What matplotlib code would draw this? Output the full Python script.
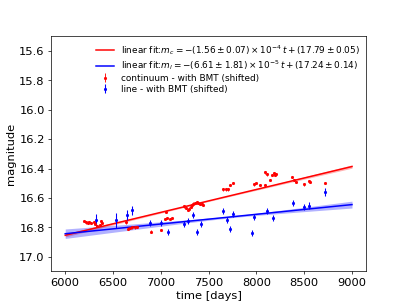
import matplotlib
matplotlib.use("Agg")
import matplotlib.pyplot as plt
import numpy as np

# continuum light curve (shifted)
cont_t = [6199, 6217, 6234, 6253, 6269, 6297, 6311, 6332, 6371, 6381, 6363,
          6636, 6654, 6678, 6699, 6727, 6751, 6895, 7002,
          7055, 7044, 7065, 7092, 7118,
          7247, 7264, 7282, 7299, 7317, 7327, 7341, 7359, 7376, 7393, 7411, 7429, 7446,
          7655, 7680, 7708, 7725, 7754,
          7977, 7998, 8040, 8085, 8116, 8144, 8162, 8179, 8197, 8207, 8092,
          8372, 8389, 8417, 8501, 8546, 8564, 8721]
cont_m = [16.759, 16.766, 16.768, 16.762, 16.771, 16.766, 16.779, 16.793, 16.757, 16.771, 16.786,
          16.767, 16.809, 16.805, 16.800, 16.800, 16.797, 16.829, 16.820,
          16.695, 16.742, 16.738, 16.742, 16.738,
          16.657, 16.668, 16.684, 16.672, 16.661, 16.650, 16.638, 16.634, 16.627, 16.634, 16.643, 16.638, 16.650,
          16.542, 16.542, 16.542, 16.513, 16.497,
          16.508, 16.497, 16.513, 16.426, 16.440, 16.479, 16.445, 16.431, 16.445, 16.438, 16.513,
          16.456, 16.479, 16.490, 16.508, 16.486, 16.493, 16.497]
cont_err = [0.008] * len(cont_t)

# line light curve (shifted)
line_t = [6318, 6528, 6649, 6695, 6887, 7002, 7079, 7247, 7288, 7341, 7376, 7421,
          7655, 7691, 7725, 7754, 7953, 7980, 8116, 8169, 8378, 8501, 8546, 8721]
line_m = [16.752, 16.752, 16.718, 16.684, 16.771, 16.771, 16.832, 16.779, 16.759, 16.713, 16.832, 16.779,
          16.691, 16.752, 16.809, 16.711, 16.836, 16.730, 16.689, 16.734, 16.634, 16.661, 16.652, 16.559]
line_err = [0.04, 0.05, 0.035, 0.03, 0.02, 0.02, 0.02, 0.02, 0.02, 0.02, 0.02, 0.02,
            0.02, 0.02, 0.02, 0.02, 0.02, 0.02, 0.02, 0.02, 0.02, 0.02, 0.025, 0.025]

# fit results
cont_slope, cont_slope_err, cont_icpt = -1.56e-4, 0.07e-4, 17.79
line_slope, line_slope_err, line_icpt = -6.61e-5, 1.81e-5, 17.24
cont_pivot, cont_pivot_err = 7500, 0.004
line_pivot, line_pivot_err = 7750, 0.006

t_fit = np.linspace(6000, 9000, 200)
cont_fit = cont_slope * t_fit + cont_icpt
line_fit = line_slope * t_fit + line_icpt
cont_band = np.sqrt(cont_pivot_err**2 + (cont_slope_err * (t_fit - cont_pivot))**2)
line_band = np.sqrt(line_pivot_err**2 + (line_slope_err * (t_fit - line_pivot))**2)

fig, ax = plt.subplots(figsize=(6.4, 4.8), dpi=63.6)

ax.plot(t_fit, cont_fit, color='red', lw=1.7,
        label=r'linear fit:$m_c = -(1.56 \pm 0.07) \times 10^{-4}\,t + (17.79 \pm 0.05)$')
ax.fill_between(t_fit, cont_fit - cont_band, cont_fit + cont_band, color='red', alpha=0.3, lw=0)
ax.plot(t_fit, line_fit, color='blue', lw=1.7,
        label=r'linear fit:$m_l = -(6.61 \pm 1.81) \times 10^{-5}\,t + (17.24 \pm 0.14)$')
ax.fill_between(t_fit, line_fit - line_band, line_fit + line_band, color='blue', alpha=0.3, lw=0)

ax.errorbar(cont_t, cont_m, yerr=cont_err, fmt='.', color='red', markersize=5,
            elinewidth=1, label='continuum - with BMT (shifted)')
ax.errorbar(line_t, line_m, yerr=line_err, fmt='.', color='blue', markersize=5,
            elinewidth=1.2, label='line - with BMT (shifted)')

ax.set_ylim(17.1, 15.5)
ax.set_xlabel('time [days]', fontsize=13)
ax.set_ylabel('magnitude', fontsize=13)
ax.tick_params(labelsize=13)
ax.legend(loc='upper right', fontsize=10, frameon=False, labelspacing=0.2,
          borderaxespad=0.3)

fig.savefig('out.png', dpi=63.6)
